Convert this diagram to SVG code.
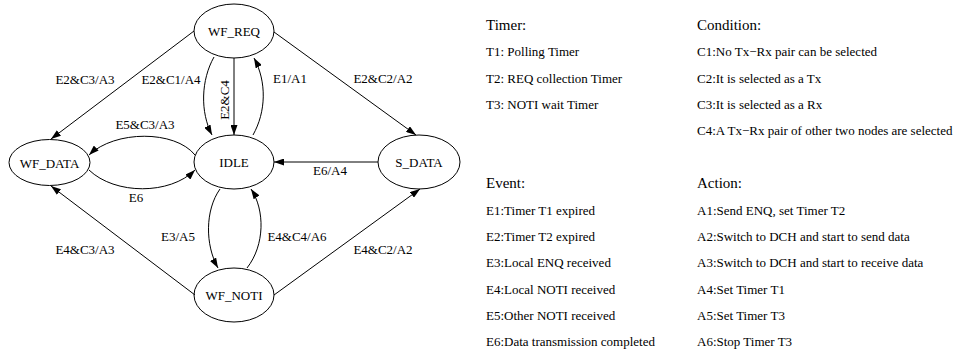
<svg xmlns="http://www.w3.org/2000/svg" width="959" height="356" viewBox="0 0 959 356">
<style>
text{font-family:"Liberation Serif","Times New Roman",serif;fill:#000}
.n ellipse{fill:none;stroke:#000;stroke-width:1}
.n text{font-size:13px;text-anchor:middle}
.e path{fill:none;stroke:#000;stroke-width:1;marker-end:url(#ah)}
.lbl{font-size:13px;text-anchor:middle}
.h{font-size:15px}
.i{font-size:13px}
</style>
<defs>
<marker id="ah" viewBox="0 0 10 7" refX="10" refY="3.5" markerWidth="10" markerHeight="7" markerUnits="userSpaceOnUse" orient="auto">
<path d="M0,0 L10,3.5 L0,7 z" fill="#000"/>
</marker>
</defs>
<g id="edges" class="e">
<path d="M194,31 L51,139"/>
<path d="M214,57 C201,80 200,112 212,135"/>
<path d="M234,58 L234,135"/>
<path d="M253,135 C266,112 267,82 254,58"/>
<path d="M274,32 L416,135"/>
<path d="M378,162 L274,162"/>
<path d="M195,155 C175,130 115,130 89,155"/>
<path d="M89,170 C115,195 170,195 195,170"/>
<path d="M220,189 C205,210 205,245 218,268"/>
<path d="M247,268 C265,245 265,210 251,189"/>
<path d="M195,295 L51,186"/>
<path d="M274,295 L420,189"/>
</g>
<g id="edge-labels">
<text class="lbl" x="85" y="84">E2&amp;C3/A3</text>
<text class="lbl" x="171" y="84">E2&amp;C1/A4</text>
<text class="lbl" transform="translate(229,100) rotate(-90)">E2&amp;C4</text>
<text class="lbl" x="290" y="83">E1/A1</text>
<text class="lbl" x="383" y="83">E2&amp;C2/A2</text>
<text class="lbl" x="330" y="175">E6/A4</text>
<text class="lbl" x="145" y="129">E5&amp;C3/A3</text>
<text class="lbl" x="136" y="202">E6</text>
<text class="lbl" x="178" y="241">E3/A5</text>
<text class="lbl" x="297" y="241">E4&amp;C4/A6</text>
<text class="lbl" x="85" y="254">E4&amp;C3/A3</text>
<text class="lbl" x="383" y="254">E4&amp;C2/A2</text>
</g>
<g id="WF_REQ" class="n"><ellipse cx="234" cy="31" rx="40" ry="27"/><text x="234" y="36">WF_REQ</text></g>
<g id="IDLE" class="n"><ellipse cx="234" cy="162" rx="40" ry="27"/><text x="234" y="167">IDLE</text></g>
<g id="WF_DATA" class="n"><ellipse cx="49.5" cy="162.5" rx="40.5" ry="23"/><text x="49.5" y="167.5">WF_DATA</text></g>
<g id="S_DATA" class="n"><ellipse cx="419" cy="162" rx="41" ry="27"/><text x="419" y="167">S_DATA</text></g>
<g id="WF_NOTI" class="n"><ellipse cx="234" cy="295" rx="40" ry="27"/><text x="234" y="300">WF_NOTI</text></g>
<g id="legend">
<text class="h" x="486" y="30">Timer:</text>
<text class="i" x="486" y="56">T1: Polling Timer</text>
<text class="i" x="486" y="83">T2: REQ collection Timer</text>
<text class="i" x="486" y="109">T3: NOTI wait Timer</text>
<text class="h" x="697" y="30">Condition:</text>
<text class="i" x="697" y="56">C1:No Tx−Rx pair can be selected</text>
<text class="i" x="697" y="83">C2:It is selected as a Tx</text>
<text class="i" x="697" y="109">C3:It is selected as a Rx</text>
<text class="i" x="697" y="135">C4:A Tx−Rx pair of other two nodes are selected</text>
<text class="h" x="486" y="188">Event:</text>
<text class="i" x="486" y="215">E1:Timer T1 expired</text>
<text class="i" x="486" y="241">E2:Timer T2 expired</text>
<text class="i" x="486" y="267">E3:Local ENQ received</text>
<text class="i" x="486" y="294">E4:Local NOTI received</text>
<text class="i" x="486" y="320">E5:Other NOTI received</text>
<text class="i" x="486" y="346">E6:Data transmission completed</text>
<text class="h" x="697" y="188">Action:</text>
<text class="i" x="697" y="215">A1:Send ENQ, set Timer T2</text>
<text class="i" x="697" y="241">A2:Switch to DCH and start to send data</text>
<text class="i" x="697" y="267">A3:Switch to DCH and start to receive data</text>
<text class="i" x="697" y="294">A4:Set Timer T1</text>
<text class="i" x="697" y="320">A5:Set Timer T3</text>
<text class="i" x="697" y="346">A6:Stop Timer T3</text>
</g>
</svg>
